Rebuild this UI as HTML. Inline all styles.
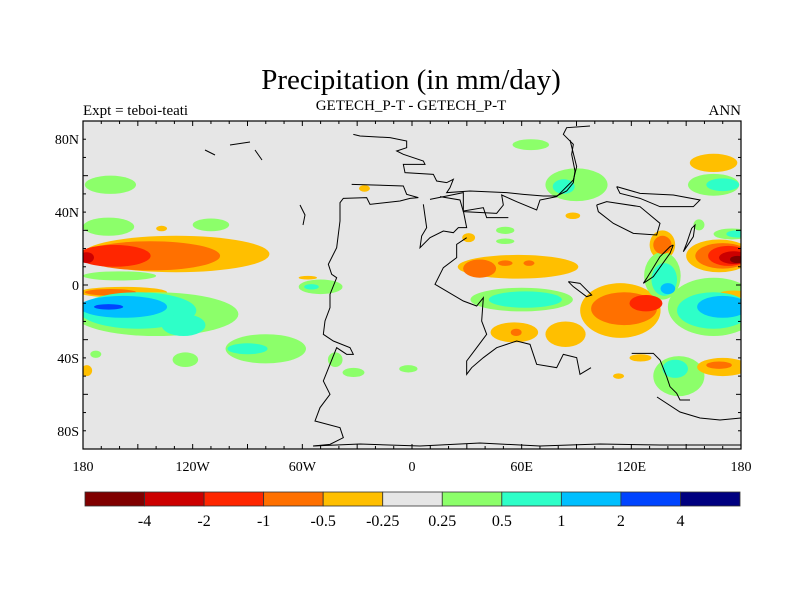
<!DOCTYPE html>
<html><head><meta charset="utf-8"><style>
html,body{margin:0;padding:0;background:#fff;width:800px;height:600px;overflow:hidden}
svg text{font-family:"Liberation Serif",serif;fill:#000}
</style></head><body>
<svg id="chart" width="800" height="600" viewBox="0 0 800 600" xmlns="http://www.w3.org/2000/svg">
<text x="411" y="89" font-size="29" text-anchor="middle">Precipitation (in mm/day)</text>
<text x="83" y="115" font-size="15">Expt = teboi-teati</text>
<text x="411" y="110" font-size="15" text-anchor="middle">GETECH_P-T - GETECH_P-T</text>
<text x="741" y="115" font-size="15" text-anchor="end">ANN</text>
<clipPath id="mapclip"><rect x="83" y="121" width="658" height="328"/></clipPath>
<rect x="83" y="121" width="658" height="328" fill="#e6e6e6"/>
<g id="blobs" clip-path="url(#mapclip)"></g>
<g id="coast" clip-path="url(#mapclip)" fill="none" stroke="#000" stroke-width="1"></g>
<g id="ticks"></g>
<rect x="83" y="121" width="658" height="328" fill="none" stroke="#000" stroke-width="1.2"/>
<g id="colorbar"></g>
</svg>
<script>
const levelColors = ["#800000","#cc0000","#ff2600","#ff7000","#ffbf00","#e6e6e6","#8cff6a","#2effc8","#00bfff","#0044ff","#000080"];
const cbLabels = ["-4","-2","-1","-0.5","-0.25","0.25","0.5","1","2","4"];
const latTicks = [80,40,0,-40,-80];
const latLabels = ["80N","40N","0","40S","80S"];
const lonTicks = [-180,-120,-60,0,60,120,180];
const lonLabels = ["180","120W","60W","0","60E","120E","180"];
// anomaly blobs: centre lon, centre lat, radius lon, radius lat, level index
const blobLon = [-129,-143,-163,-178,-165,-166,-110,-137,-160,-158,-165,-140,-80,-150,-125,-158,-166,-90,-173,-124,-50,-55,-57,-42,-32,-2,-26,-178,
58,37,51,64,60,62,56,57,84,65,90,83,88,51,51,31,114,116,128,137,137,137,138,140,168,170,173,176,178,175,178,165,165,170,176,165,165,170,157,125,146,144,170,168,113];
const blobLat = [17,16,16,15,55,32,33,31,5,-4,-4,-16,-35,-14,-22,-12,-12,-35,-38,-41,-1,-1,4,-41,-48,-46,53,-47,
10,9,12,12,-8,-8,-26,-26,-27,77,55,54,38,30,24,26,-14,-13,-10,22,22,5,3,-2,16,16,16,15,14,28,28,-12,-14,-12,-5,67,55,55,33,-40,-50,-46,-45,-44,-50];
const blobRx = [51,38,20,4,14,14,10,3,20,24,14,45,22,32,12,24,8,11,3,7,12,4,5,4,6,5,3,3,
33,9,4,3,28,20,13,3,11,10,17,6,4,5,5,3.5,22,18,9,7,5,10,7,4,18,15,11,8,4,10,6,25,20,14,8,13,14,9,3,6,14,7,14,7,3];
const blobRy = [10,8,6,3,5,5,3.5,1.5,2.5,3,1.8,12,8,10,6,6,1.5,3,2,4,4,1.5,1,4,2.5,2,1.8,3,
6.5,5,1.5,1.5,6.5,4.5,5.5,2,7,3,9,4,1.8,2,1.5,2.5,15,9,4.5,8,5,13,9,3,9,7,5.5,3.5,2,3,2,16,10,6,2,5,6,3.5,3,2,11,5,5,2,1.5];
const blobLevel = [4,3,2,1,6,6,6,4,6,4,3,6,6,7,7,8,9,7,6,6,6,7,4,6,6,6,4,4,
4,3,3,3,6,7,4,3,4,6,6,7,4,6,6,4,4,3,2,4,3,6,7,8,4,3,2,1,0,6,7,6,7,8,4,4,6,7,6,4,6,7,4,3,4];

const X0=83,X1=741,Y0=121,Y1=449;
const xOf = lon => X0 + (lon + 180) / 360 * (X1 - X0);
const yOf = lat => Y0 + (90 - lat) / 180 * (Y1 - Y0);
const NS="http://www.w3.org/2000/svg";
function mk(tag, attrs, parent){const e=document.createElementNS(NS,tag);for(const k in attrs)e.setAttribute(k,attrs[k]);parent.appendChild(e);return e;}

const gB=document.getElementById('blobs');
// draw outer levels first: order by distance from neutral (5)
const order = blobLon.map((_,i)=>i).sort((a,b)=>Math.abs(blobLevel[a]-5)-Math.abs(blobLevel[b]-5));
order.forEach(i=>{
  const e=mk('ellipse',{cx:xOf(blobLon[i]),cy:yOf(blobLat[i]),rx:blobRx[i]*(X1-X0)/360,ry:blobRy[i]*(Y1-Y0)/180,fill:levelColors[blobLevel[i]]},gB);
  
  
});

// coastlines (pixel traces)
const z4 = pts => pts.map(p=>[290+p[0]/3,121+p[1]/3]);
const z3 = pts => pts.map(p=>[440+p[0]/3,140+p[1]/3]);
const coasts = [
 z4([[190,40],[210,45],[300,50],[350,60],[350,80],[320,90],[340,100],[400,120],[405,130],[340,130],[345,155],[430,160],[440,180],[470,185],[490,175],[480,200],[470,215],[540,210],[650,215],[700,220],[760,225],[800,225],[830,210],[850,185],[855,150],[845,100],[850,70],[820,40],[830,20],[900,15]]),
 z4([[185,190],[340,195],[350,220],[385,230],[360,232],[330,240],[240,250],[230,230],[160,232],[150,245],[150,300],[140,380],[115,430],[125,460],[140,470],[120,520],[120,560],[105,600],[100,640],[130,660],[180,680],[190,700],[170,700],[140,680],[120,730],[100,780],[120,820],[90,860],[75,900],[150,920],[160,950],[120,970],[70,975]]),
 z4([[400,250],[410,320],[395,345],[390,380],[420,350],[460,330],[490,335],[505,320],[530,320],[520,270],[580,260],[590,290],[655,290]]),
 z4([[420,235],[520,215],[520,270]]),
 z4([[530,350],[500,370],[500,410],[460,440],[435,490],[520,540],[560,555],[580,530],[575,600],[590,640],[560,680],[530,720],[530,760],[545,740],[580,710],[620,680],[680,660],[720,670],[740,730],[800,740],[820,700],[860,710],[870,760],[903,740]]),
 z3([[0,170],[60,180],[70,215],[170,220],[190,195],[185,165],[230,185],[290,210],[300,180],[350,170],[400,120],[410,80],[400,40],[390,0]]),
 z3([[530,140],[600,160],[700,165],[780,180],[760,200],[660,200],[600,175],[540,160],[530,140]]),
 z3([[470,195],[500,185],[600,200],[660,250],[650,285],[580,280],[520,250],[475,215],[470,195]]),
 z3([[700,315],[690,340],[640,410],[610,430],[620,415],[660,350],[690,320],[700,315]]),
 z3([[730,335],[760,290],[765,255],[755,265],[740,310],[730,335]]),
 z3([[385,425],[420,430],[455,465],[440,470],[400,440],[385,425]]),
 z3([[575,640],[640,640],[660,660],[680,710],[690,740],[710,760],[720,780],[750,780]]),
 [[657,397],[680,412],[700,418],[720,420],[741,418]],
 [[313,446],[360,444],[420,446],[480,443],[540,446],[600,444],[660,445],[741,445]],
 [[300,205],[305,215],[303,225]],[[205,150],[215,155]],[[230,145],[250,142]],[[255,150],[262,160]]
];
const gC=document.getElementById('coast');
coasts.forEach(c=>{
  const e=mk('polyline',{points:c.map(p=>p.join(',')).join(' ')},gC);
  
  
});

// ticks & labels
const gT=document.getElementById('ticks');
for(let lat=-90;lat<=90;lat+=10){
  const y=yOf(lat), L=(lat%30===0)?5:3;
  mk('line',{x1:X0,y1:y,x2:X0+L,y2:y,stroke:'#000'},gT);
  mk('line',{x1:X1,y1:y,x2:X1-L,y2:y,stroke:'#000'},gT);
}
for(let lon=-180;lon<=180;lon+=10){
  const x=xOf(lon), L=(lon%30===0)?5:3;
  mk('line',{x1:x,y1:Y0,x2:x,y2:Y0+L,stroke:'#000'},gT);
  mk('line',{x1:x,y1:Y1,x2:x,y2:Y1-L,stroke:'#000'},gT);
}
latTicks.forEach((lat,i)=>{
  const t=mk('text',{x:X0-4,y:yOf(lat)+5,'font-size':14,'text-anchor':'end'},gT);
  t.textContent=latLabels[i];
  
  
});
lonTicks.forEach((lon,i)=>{
  const t=mk('text',{x:xOf(lon),y:471,'font-size':14,'text-anchor':'middle'},gT);
  t.textContent=lonLabels[i];
  
  
});

// colorbar
const gCB=document.getElementById('colorbar');
const cbX0=85,cbX1=740,cbY=492,cbH=14,bw=(cbX1-cbX0)/levelColors.length;
levelColors.forEach((c,i)=>{
  const r=mk('rect',{x:cbX0+i*bw,y:cbY,width:bw,height:cbH,fill:c,stroke:'#333','stroke-width':0.8},gCB);
  
  
});
cbLabels.forEach((s,i)=>{
  const t=mk('text',{x:cbX0+(i+1)*bw,y:526,'font-size':16,'text-anchor':'middle'},gCB);
  t.textContent=s;
  
  
});
</script>
</body></html>
